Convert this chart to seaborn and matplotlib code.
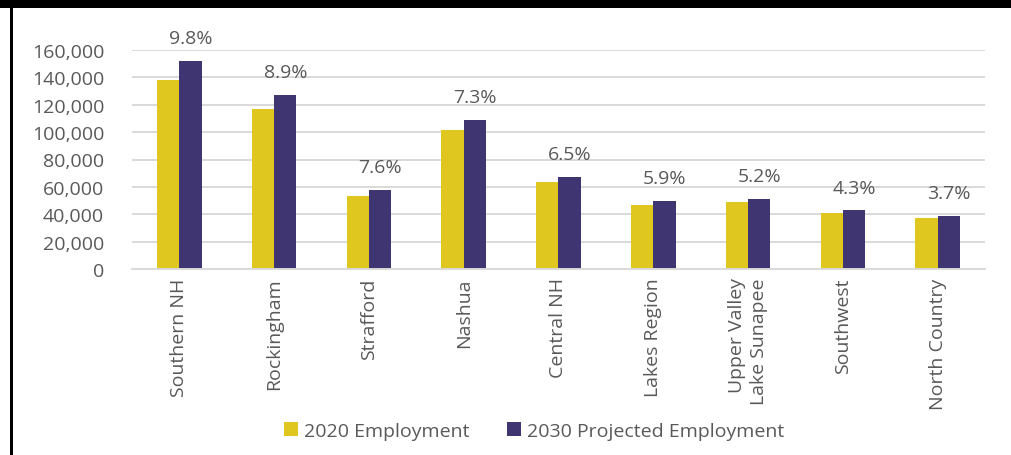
import matplotlib
matplotlib.use("Agg")
import matplotlib.pyplot as plt
import seaborn as sns
import pandas as pd
from matplotlib.patches import Rectangle

regions = ["Southern NH", "Rockingham", "Strafford", "Nashua", "Central NH",
           "Lakes Region", "Upper Valley\nLake Sunapee", "Southwest", "North Country"]
emp_2020 = [138200, 117000, 53600, 101800, 63200, 47000, 48800, 41000, 37300]
emp_2030 = [151700, 127400, 57700, 109200, 67300, 49800, 51300, 42800, 38700]
growth_labels = ["9.8%", "8.9%", "7.6%", "7.3%", "6.5%", "5.9%", "5.2%", "4.3%", "3.7%"]
series_names = ["2020 Employment", "2030 Projected Employment"]
colors = ["#DFC71F", "#3F3571"]

df = pd.DataFrame({
    "Region": regions * 2,
    "Employment": emp_2020 + emp_2030,
    "Series": [series_names[0]] * len(regions) + [series_names[1]] * len(regions),
})

sns.set_style("white")
plt.rcParams["font.family"] = ["Open Sans", "DejaVu Sans"]
text_color = "#595959"
fs = 14

fig = plt.figure(figsize=(10.12, 4.56), dpi=100)
ax = fig.add_axes([132 / 1012, 1 - 270 / 456, (985 - 132) / 1012, (270 - 51) / 456])

sns.barplot(data=df, x="Region", y="Employment", hue="Series", order=regions,
            hue_order=series_names, palette=colors, saturation=1, width=0.47,
            linewidth=0, ax=ax, legend=True)

ax.set_ylim(0, 160000)
ax.set_xlim(-0.5, len(regions) - 0.5)
ax.set_yticks(range(0, 160001, 20000))
ax.set_yticklabels([f"{v:,}" for v in range(0, 160001, 20000)])
ax.yaxis.grid(True, color="#D9D9D9", linewidth=1.4)
ax.set_axisbelow(True)
for s in ["top", "right", "left"]:
    ax.spines[s].set_visible(False)
ax.spines["bottom"].set_color("#D9D9D9")
ax.spines["bottom"].set_linewidth(1.4)
ax.set_xlabel("")
ax.set_ylabel("")
ax.tick_params(axis="both", length=0, labelsize=fs, colors=text_color)
ax.tick_params(axis="y", pad=20)
ax.tick_params(axis="x", pad=6)
for lbl in ax.get_xticklabels():
    lbl.set_rotation(90)
    lbl.set_multialignment("right")
    lbl.set_linespacing(1.3)

ax.bar_label(ax.containers[1], labels=growth_labels, padding=10,
             fontsize=fs, color=text_color)

leg = ax.legend(loc="center", bbox_to_anchor=(534 / 1012, 1 - 432 / 456),
                bbox_transform=fig.transFigure, ncol=2, frameon=False,
                fontsize=fs, handlelength=0.75, handleheight=0.75,
                handletextpad=0.3, columnspacing=1.9)
for t in leg.get_texts():
    t.set_color(text_color)

# frame decorations
fig.patches.append(Rectangle((0, 1 - 9 / 456), 1, 9 / 456, transform=fig.transFigure,
                             facecolor="black", edgecolor="none", zorder=0))
fig.patches.append(Rectangle((10 / 1012, 0), 3 / 1012, 1, transform=fig.transFigure,
                             facecolor="black", edgecolor="none", zorder=0))

fig.savefig("out.png", dpi=100)
